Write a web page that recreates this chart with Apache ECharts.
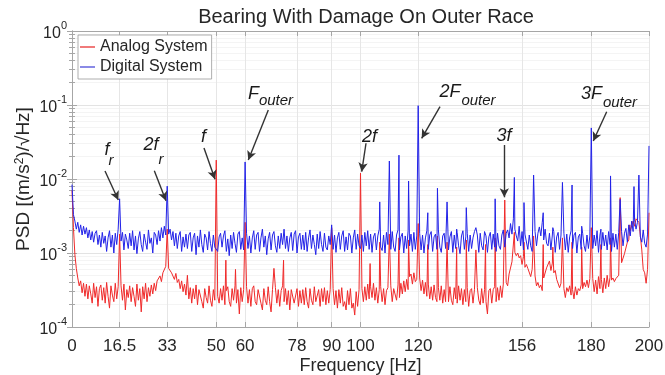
<!DOCTYPE html>
<html>
<head>
<meta charset="utf-8">
<script src="https://cdn.jsdelivr.net/npm/echarts@6/dist/echarts.min.js"></script>
<style>
  html, body { margin: 0; padding: 0; background: #fff; }
  #chart { width: 665px; height: 375px; }
</style>
</head>
<body>
<div id="chart"></div>
<script>
// frequency grid of the noise floor (Hz)
const FREQ_STEP = 0.5;
const xTicks = [0, 16.5, 33, 50, 60, 78, 90, 100, 120, 156, 180, 200];

// analog noise floor, in units of 1e-4, one value per 0.5 Hz from 0 to 200
const analogFloorE4 = [
  70, 22, 9.5, 6.2, 4.6, 3.6, 4.2, 2.9, 3.9, 2.6, 3.8, 2.4, 3.6, 2.8, 2.1, 3.9, 2.5, 3.5, 1.9, 3.3,
  3.7, 2.3, 3.4, 2.1, 4.0, 2.6, 1.8, 3.6, 2.7, 2.2, 3.9, 2.4, 3.5, 2.0, 3.6, 2.3, 3.8, 1.7, 3.2, 2.5,
  3.6, 2.2, 3.4, 2.6, 1.9, 3.8, 2.3, 3.3, 1.6, 3.5, 2.4, 3.9, 2.2, 3.4, 2.6, 3.7, 2.8, 3.9, 3.1, 4.2,
  4.0, 4.9, 4.1, 5.4, 5.2, 6.6, 7.0, 6.2, 6.4, 5.4, 5.6, 4.4, 5.3, 4.0, 4.4, 3.3, 4.2, 3.0, 3.8, 2.7,
  3.5, 2.4, 3.4, 2.1, 3.3, 2.4, 3.7, 2.0, 3.2, 3.4, 2.2, 1.8, 3.3, 2.5, 2.1, 3.6, 2.3, 1.9, 3.2, 2.3,
  3.1, 2.6, 2.1, 3.3, 2.3, 3.6, 2.0, 3.1, 3.5, 2.2, 1.9, 3.3, 2.3, 3.6, 2.1, 3.2, 1.5, 3.4, 2.2, 3.2,
  2.3, 3.5, 2.1, 3.2, 1.9, 3.3, 3.6, 2.2, 2.0, 3.2, 3.4, 2.1, 1.7, 3.3, 2.3, 2.0, 3.5, 2.2, 1.6, 3.2,
  2.2, 3.4, 2.1, 3.2, 1.9, 3.1, 3.6, 2.2, 3.3, 2.0, 3.1, 1.7, 3.2, 3.4, 2.1, 2.2, 3.3, 1.9, 3.1, 2.1,
  3.2, 2.0, 3.4, 2.2, 1.8, 3.3, 2.3, 2.0, 3.5, 2.2, 2.1, 3.2, 1.9, 3.3, 2.2, 3.4, 2.0, 3.1, 2.1, 3.2,
  2.2, 3.3, 2.0, 3.1, 1.8, 3.2, 2.1, 3.4, 1.9, 2.2, 1.7, 3.1, 2.0, 3.3, 1.8, 2.1, 1.45, 3.0, 1.9, 3.2,
  2.1, 3.3, 2.2, 3.5, 2.3, 3.8, 2.4, 3.5, 2.5, 3.9, 2.3, 3.4, 2.1, 3.2, 3.5, 2.2, 3.3, 2.0, 3.1, 3.4,
  2.4, 3.6, 2.2, 3.3, 3.4, 2.3, 3.7, 2.5, 3.9, 2.8, 4.2, 3.0, 4.4, 3.2, 4.8, 5.2, 3.8, 5.4, 4.1, 4.4,
  3.4, 4.6, 3.1, 4.3, 2.8, 4.0, 2.6, 3.8, 2.4, 3.5, 2.3, 3.7, 2.5, 2.2, 3.4, 2.3, 3.6, 2.1, 3.2, 2.2,
  3.3, 2.2, 3.5, 2.3, 2.0, 3.4, 2.4, 2.1, 3.6, 2.3, 3.3, 2.0, 3.2, 2.2, 3.4, 1.9, 3.1, 3.3, 2.1, 3.2,
  2.2, 3.4, 2.3, 2.0, 3.3, 2.1, 3.2, 2.2, 1.5, 3.1, 3.3, 2.1, 3.2, 3.5, 2.2, 3.4, 2.3, 3.6, 2.5, 3.8,
  2.9, 4.0, 3.6, 5.2, 5.0, 7.6, 7.4, 10.2, 9.2, 10.0, 8.6, 9.2, 7.0, 9.0, 6.4, 7.0, 6.2, 6.4, 4.8, 6.0,
  4.3, 4.9, 3.6, 4.0, 3.4, 3.7, 3.1, 4.6, 4.5, 6.3, 6.0, 7.8, 5.8, 7.3, 5.4, 5.8, 4.4, 4.6, 3.4, 3.9,
  2.8, 3.3, 2.5, 3.4, 3.0, 3.6, 2.7, 3.2, 2.4, 3.5, 2.7, 3.3, 3.1, 3.7, 3.3, 4.0, 3.5, 4.3, 3.4, 4.5,
  3.1, 4.5, 3.0, 4.3, 2.8, 4.8, 3.3, 4.4, 2.9, 4.6, 3.3, 5.0, 3.5, 4.7, 4.3, 4.6, 4.1, 4.5, 4.4, 5.0,
  5.6, 7.4, 7.6, 9.8, 10, 14, 15, 20, 21, 27, 23, 29, 29, 26, 17, 11, 6.0, 5.4, 3.9, 6.0,
  35
];

// digital noise floor, in units of 1e-3, one value per 0.5 Hz from 0 to 200
const digitalFloorE3 = [
  8.4, 3.3, 2.7, 2.1, 2.6, 1.9, 2.4, 1.75, 2.3, 1.8, 2.2, 1.6, 2.05, 1.5, 1.95, 1.4, 1.85, 2.0, 1.3, 1.75,
  1.2, 1.9, 1.35, 1.7, 1.05, 1.6, 2.0, 1.2, 1.75, 1.0, 1.85, 1.3, 2.1, 1.25, 1.45, 1.9, 1.1, 1.8, 1.5, 1.15,
  1.85, 1.25, 2.0, 1.1, 1.7, 0.98, 1.55, 1.95, 1.3, 1.05, 1.8, 1.4, 1.12, 2.05, 1.35, 1.6, 1.0, 1.9, 1.75, 1.3,
  2.0, 1.45, 2.2, 1.6, 2.3, 1.75, 2.4, 1.8, 2.1, 1.5, 1.95, 1.25, 1.85, 1.15, 1.7, 1.95, 1.05, 1.65, 1.2, 1.8,
  1.15, 1.75, 1.9, 1.05, 1.6, 1.85, 0.95, 1.7, 1.2, 2.05, 1.3, 1.02, 1.8, 1.6, 1.1, 1.95, 1.35, 1.05, 1.75, 1.2,
  1.15, 1.05, 1.65, 1.85, 1.2, 1.7, 2.0, 1.05, 1.55, 0.92, 1.75, 1.15, 1.9, 1.35, 1.02, 1.8, 1.95, 1.12, 1.6, 1.1,
  1.3, 1.85, 1.15, 1.7, 1.0, 1.6, 2.0, 1.12, 1.75, 1.9, 1.05, 1.6, 2.1, 1.2, 1.7, 0.95, 1.55, 1.9, 1.1, 1.75,
  1.95, 1.25, 1.02, 1.7, 1.15, 1.85, 1.3, 2.1, 1.15, 1.7, 1.05, 1.6, 1.9, 1.08, 1.8, 2.0, 1.0, 1.65, 1.85, 1.12,
  1.75, 1.1, 1.9, 1.05, 1.6, 2.05, 1.15, 1.75, 1.3, 0.95, 1.8, 1.15, 1.95, 1.3, 1.05, 1.85, 1.2, 1.1, 1.7, 1.3,
  1.85, 1.12, 1.75, 1.02, 1.6, 1.9, 1.12, 1.7, 2.0, 1.05, 1.65, 1.1, 1.85, 1.7, 1.0, 1.6, 2.05, 1.12, 1.8, 1.25,
  1.15, 1.75, 1.05, 1.9, 1.25, 2.0, 1.12, 1.8, 1.02, 1.65, 1.85, 1.1, 1.7, 2.1, 1.2, 1.08, 1.75, 1.0, 1.9, 1.3,
  1.7, 1.12, 1.95, 1.2, 1.05, 1.75, 2.05, 1.1, 1.65, 1.85, 1.0, 1.7, 1.15, 2.0, 1.25, 1.8, 1.05, 1.9, 1.12, 1.7,
  1.25, 1.85, 1.1, 1.75, 1.0, 1.6, 2.0, 1.12, 1.75, 1.95, 1.05, 1.65, 1.8, 1.12, 2.05, 1.2, 1.02, 1.7, 1.85, 1.15,
  1.75, 1.1, 1.65, 1.95, 1.02, 1.75, 1.15, 1.9, 1.25, 0.98, 1.7, 2.0, 1.12, 1.65, 1.85, 1.05, 1.75, 1.15, 1.6, 1.95,
  1.12, 1.75, 1.02, 1.85, 1.25, 1.1, 1.95, 1.7, 1.02, 1.65, 1.9, 1.12, 1.8, 1.2, 1.05, 1.85, 1.25, 1.12, 1.75, 2.05,
  1.2, 1.85, 2.05, 1.6, 2.5, 1.8, 2.9, 2.1, 1.7, 1.45, 2.3, 1.25, 1.95, 1.1, 1.8, 1.9, 1.12, 1.75, 1.25, 1.05,
  1.75, 1.95, 1.25, 1.85, 2.25, 1.7, 2.6, 1.5, 2.1, 1.35, 1.25, 1.85, 1.1, 1.75, 1.95, 1.02, 1.65, 1.9, 1.12, 1.75,
  1.25, 1.85, 1.1, 1.8, 1.02, 1.65, 2.0, 1.15, 1.75, 1.9, 1.0, 1.65, 1.8, 1.12, 1.85, 1.25, 1.05, 1.75, 1.15, 1.7,
  1.85, 1.15, 1.75, 1.25, 2.0, 1.02, 1.75, 1.12, 1.9, 1.25, 1.75, 1.1, 1.95, 1.3, 1.05, 1.85, 1.2, 1.8, 1.12, 1.9,
  1.3, 1.95, 1.25, 1.85, 2.15, 1.4, 2.4, 1.7, 2.7, 1.95, 2.8, 2.1, 2.6, 1.85, 1.65, 1.4, 2.05, 1.35, 1.2, 1.8,
  1.4
];

// narrow spectral lines [frequency Hz, PSD]
const analogPeaks = [
  [16.5, 1.8e-3], [33, 2.1e-3], [40, 5.0e-4], [50, 1.8e-2], [53.33, 8.0e-4], [56.67, 6.0e-4],
  [60, 2.6e-3], [70, 6.2e-4], [73.33, 8.0e-4], [90, 2.2e-3], [100, 1.2e-2], [103.33, 7.2e-4],
  [106.67, 1.4e-3], [110, 1.8e-3], [113.33, 1.6e-3], [116.67, 1.5e-3], [120, 2.5e-3], [123.33, 1.3e-3],
  [126.67, 1.7e-3], [130, 1.4e-3], [133.33, 1.2e-3], [136.67, 1.5e-3], [140, 1.1e-3], [143.33, 1.3e-3],
  [146.67, 1.6e-3], [150, 5.2e-3], [153.33, 1.9e-3], [156.67, 1.4e-3], [160, 1.7e-3], [163.33, 1.3e-3],
  [166.67, 1.2e-3], [170, 1.6e-3], [173.33, 1.4e-3], [176.67, 1.2e-3], [180, 2.2e-3], [183.33, 1.3e-3],
  [186.67, 1.6e-3], [190, 5.6e-3], [193.33, 2.4e-3]
];
const digitalPeaks = [
  [16.5, 5.4e-3], [33, 8.0e-3], [60, 1.7e-2], [90, 2.4e-3], [106.67, 4.9e-3], [110, 1.75e-2],
  [113.33, 2.1e-2], [116.67, 9.4e-3], [120, 9.8e-2], [123.33, 3.5e-3], [126.67, 7.5e-3], [130, 4.9e-3],
  [133.33, 2.1e-3], [136.67, 4.1e-3], [140, 2.2e-3], [143.33, 2.0e-3], [146.67, 5.4e-3], [153.33, 1.05e-2],
  [156.67, 4.8e-3], [160, 1.13e-2], [163.33, 3.5e-3], [166.67, 2.2e-3], [170, 9.0e-3], [173.33, 8.3e-3],
  [176.67, 2.3e-3], [180, 4.9e-2], [183.33, 2.1e-3], [186.67, 1.1e-2], [190, 5.3e-3], [194.8, 7.9e-3],
  [196.5, 1.13e-2], [200, 2.8e-2]
];

// annotation texts and arrows, in data coordinates [Hz, PSD]
const noteTexts = [
  ['f', 12.13, 0.0247, 'main'], ['r', 13.52, 0.0175, 'sub'],
  ['2f', 27.38, 0.0284, 'main'], ['r', 30.85, 0.0183, 'sub'],
  ['f', 45.58, 0.0370, 'main'],
  ['F', 62.91, 0.1429, 'main'], ['outer', 70.71, 0.1133, 'sub'],
  ['2f', 103.12, 0.0375, 'main'],
  ['2F', 131.02, 0.1521, 'main'], ['outer', 140.9, 0.1147, 'sub'],
  ['3f', 149.74, 0.0387, 'main'],
  ['3F', 180.07, 0.1409, 'main'], ['outer', 189.95, 0.1077, 'sub']
];
const noteArrows = [
  [[11.44, 0.01283], [16.05, 0.0052]],
  [[28.53, 0.01295], [32.58, 0.00509]],
  [[45.75, 0.02624], [49.57, 0.00991]],
  [[68.04, 0.0856], [61.11, 0.01807]],
  [[101.91, 0.0304], [100.42, 0.01256]],
  [[127.56, 0.0948], [121.21, 0.0355]],
  [[149.84, 0.0288], [149.84, 0.00566]],
  [[185.34, 0.0812], [180.69, 0.0326]]
];

function buildSeries(floor, unit, peaks) {
  const pts = floor.map((v, i) => [i * FREQ_STEP, v * unit]);
  peaks.forEach(([f, v]) => {
    const hit = pts.find(p => Math.abs(p[0] - f) < 1e-6);
    if (hit) hit[1] = v; else pts.push([f, v]);
  });
  return pts.sort((a, b) => a[0] - b[0]);
}

const frame = '#a6a6a6';
const txt = '#262626';
const chart = echarts.init(document.getElementById('chart'), null, { renderer: 'canvas' });

const yAxisBase = {
  type: 'log', logBase: 10, min: 1e-4, max: 1, splitNumber: 4,
  axisLine: { show: true, lineStyle: { color: frame } },
  axisTick: { show: true, inside: true, length: 5, lineStyle: { color: frame } },
  minorTick: { show: true, splitNumber: 9, length: 3, lineStyle: { color: frame } }
};
const xAxisBase = {
  type: 'value', min: 0, max: 200,
  axisLine: { show: true, onZero: false, lineStyle: { color: frame } },
  axisTick: { show: true, inside: true, length: 5, customValues: xTicks, lineStyle: { color: frame } }
};

const option = {
  animation: false,
  backgroundColor: '#fff',
  title: {
    text: 'Bearing With Damage On Outer Race',
    left: 361, top: 2, textAlign: 'center',
    textStyle: { fontFamily: 'Liberation Sans', fontSize: 20, fontWeight: 'normal', color: txt }
  },
  legend: {
    data: ['Analog System', 'Digital System'],
    orient: 'vertical', left: 78, top: 35,
    padding: [4, 4, 4, 2], itemGap: 4, itemWidth: 15, itemHeight: 2, icon: 'rect',
    backgroundColor: '#fff', borderColor: '#9a9a9a', borderWidth: 0.8,
    textStyle: { fontFamily: 'Liberation Sans', fontSize: 16, color: txt }
  },
  grid: { left: 72, right: 16, top: 31, bottom: 48, show: false, outerBoundsMode: 'none', containLabel: false },
  xAxis: [
    Object.assign({}, xAxisBase, {
      position: 'bottom',
      axisLabel: { customValues: xTicks, fontFamily: 'Liberation Sans', fontSize: 17, color: txt, margin: 11,
        formatter: v => String(v) },
      splitLine: { show: true, lineStyle: { color: '#e6e6e6', width: 1 } },
      name: 'Frequency [Hz]', nameLocation: 'middle', nameGap: 30, nameMoveOverlap: false,
      nameTextStyle: { fontFamily: 'Liberation Sans', fontSize: 18, color: txt }
    }),
    Object.assign({}, xAxisBase, {
      position: 'top', axisLabel: { show: false }, splitLine: { show: false }
    })
  ],
  yAxis: [
    Object.assign({}, yAxisBase, {
      position: 'left',
      splitLine: { show: true, lineStyle: { color: '#e3e3e3' } },
      minorSplitLine: { show: true, lineStyle: { color: '#f4f4f4' } },
      axisLabel: {
        margin: 5, color: txt,
        formatter: v => '{b|10}{s|' + Math.round(Math.log10(v)) + '}',
        rich: {
          b: { fontFamily: 'Liberation Sans', fontSize: 16, color: txt, lineHeight: 22, verticalAlign: 'bottom' },
          s: { fontFamily: 'Liberation Sans', fontSize: 11, color: txt, lineHeight: 12, verticalAlign: 'top' }
        }
      },
      name: 'PSD [(m/s{sup|2})/\u221AHz]', nameLocation: 'middle', nameGap: 39, nameMoveOverlap: false,
      nameTextStyle: {
        fontFamily: 'Liberation Sans', fontSize: 19, color: txt,
        rich: {
          sup: { fontFamily: 'Liberation Sans', fontSize: 12, color: txt, verticalAlign: 'top', lineHeight: 12 }
        }
      }
    }),
    Object.assign({}, yAxisBase, {
      position: 'right', axisLabel: { show: false }, splitLine: { show: false }
    })
  ],
  series: [
    {
      name: 'Analog System', type: 'line', showSymbol: false, symbol: 'none',
      xAxisIndex: 0, yAxisIndex: 0,
      lineStyle: { color: '#f02a2a', width: 1 }, itemStyle: { color: '#f07a7a' },
      data: buildSeries(analogFloorE4, 1e-4, analogPeaks)
    },
    {
      name: 'Digital System', type: 'line', showSymbol: false, symbol: 'none',
      xAxisIndex: 0, yAxisIndex: 0,
      lineStyle: { color: '#2222e8', width: 1 }, itemStyle: { color: '#8a8ae6' },
      data: buildSeries(digitalFloorE3, 1e-3, digitalPeaks),
      markLine: {
        silent: true, animation: false,
        symbol: ['none', 'arrow'], symbolSize: [7, 9],
        label: { show: false },
        lineStyle: { color: '#333', width: 1.4, type: 'solid' },
        emphasis: { disabled: true },
        data: noteArrows.map(([a, b]) => [{ coord: a }, { coord: b }])
      },
      markPoint: {
        silent: true, animation: false,
        symbol: 'circle', symbolSize: 1,
        itemStyle: { color: 'rgba(0,0,0,0)' },
        data: noteTexts.map(([t, f, v, kind]) => ({
          coord: [f, v], name: t,
          label: {
            show: true, position: 'inside', formatter: t,
            fontFamily: 'Liberation Sans', fontStyle: 'italic',
            fontSize: kind === 'main' ? 18 : 15, color: '#1a1a1a'
          }
        }))
      }
    }
  ]
};

chart.setOption(option);
</script>
</body>
</html>
